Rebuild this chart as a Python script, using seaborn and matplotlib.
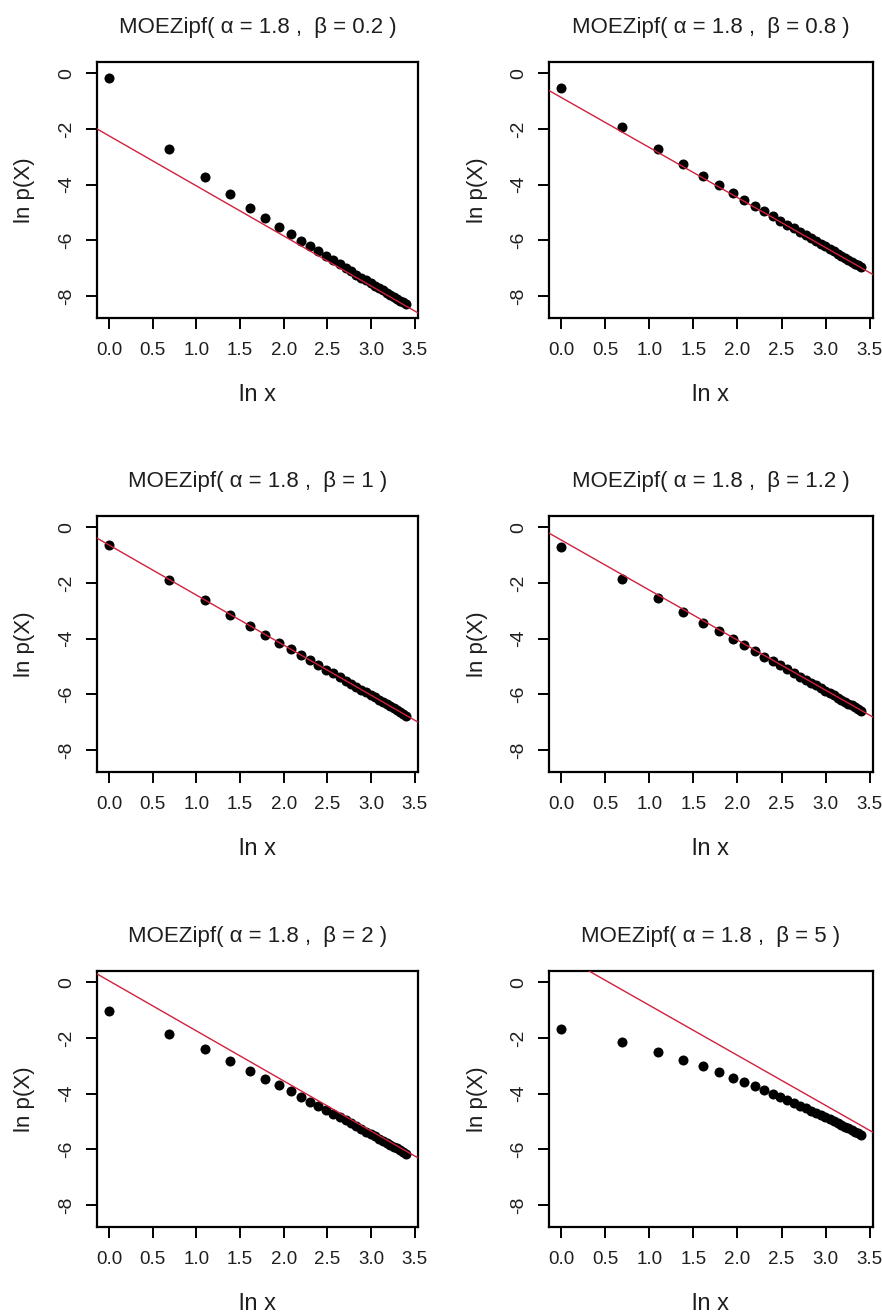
import numpy as np
import pandas as pd
import matplotlib
matplotlib.use("Agg")
import matplotlib.pyplot as plt
import seaborn as sns

# ---------------- data ----------------
alpha = 1.8
betas = ["0.2", "0.8", "1", "1.2", "2", "5"]
x_values = np.arange(1, 31)          # x = 1..30, plotted as ln x

lnp_b02 = [-0.16, -2.73, -3.71, -4.35, -4.82, -5.20, -5.51, -5.77, -6.01, -6.21,
           -6.40, -6.56, -6.72, -6.86, -6.99, -7.11, -7.23, -7.34, -7.44, -7.54,
           -7.63, -7.71, -7.80, -7.88, -7.95, -8.03, -8.10, -8.17, -8.23, -8.29]
lnp_b08 = [-0.53, -1.94, -2.72, -3.26, -3.68, -4.02, -4.30, -4.55, -4.76, -4.96,
           -5.13, -5.29, -5.44, -5.57, -5.70, -5.82, -5.93, -6.03, -6.13, -6.22,
           -6.31, -6.40, -6.48, -6.56, -6.63, -6.70, -6.77, -6.84, -6.90, -6.96]
lnp_b1 = [-0.63, -1.88, -2.61, -3.13, -3.53, -3.86, -4.14, -4.38, -4.59, -4.78,
          -4.95, -5.11, -5.25, -5.38, -5.51, -5.62, -5.73, -5.84, -5.93, -6.03,
          -6.11, -6.20, -6.28, -6.35, -6.43, -6.50, -6.57, -6.63, -6.69, -6.76]
lnp_b12 = [-0.72, -1.85, -2.54, -3.03, -3.42, -3.74, -4.01, -4.24, -4.45, -4.64,
           -4.81, -4.96, -5.10, -5.23, -5.36, -5.47, -5.58, -5.68, -5.78, -5.87,
           -5.95, -6.04, -6.12, -6.19, -6.26, -6.33, -6.40, -6.47, -6.53, -6.59]
lnp_b2 = [-1.02, -1.85, -2.41, -2.83, -3.17, -3.46, -3.70, -3.92, -4.11, -4.28,
          -4.44, -4.59, -4.72, -4.84, -4.96, -5.07, -5.17, -5.27, -5.36, -5.45,
          -5.53, -5.61, -5.69, -5.76, -5.83, -5.90, -5.96, -6.03, -6.09, -6.15]
lnp_b5 = [-1.69, -2.14, -2.50, -2.78, -3.02, -3.23, -3.42, -3.58, -3.73, -3.87,
          -4.00, -4.12, -4.23, -4.33, -4.43, -4.52, -4.61, -4.69, -4.77, -4.85,
          -4.92, -4.99, -5.06, -5.12, -5.19, -5.25, -5.30, -5.36, -5.41, -5.47]
series = [lnp_b02, lnp_b08, lnp_b1, lnp_b12, lnp_b2, lnp_b5]

# red reference lines: ln p = intercept - alpha * ln x
intercepts = [-2.24, -0.86, -0.63, -0.45, 0.06, 0.98]

x_ticks = [0.0, 0.5, 1.0, 1.5, 2.0, 2.5, 3.0, 3.5]
x_ticklabels = ["0.0", "0.5", "1.0", "1.5", "2.0", "2.5", "3.0", "3.5"]
y_ticks = [0, -2, -4, -6, -8]
y_ticklabels = ["0", "-2", "-4", "-6", "-8"]

# ---------------- style ----------------
sns.set_style("white")
plt.rcParams["font.family"] = ["Liberation Sans", "DejaVu Sans"]
plt.rcParams["axes.unicode_minus"] = False

W, H = 882, 1316
fig = plt.figure(figsize=(W / 100, H / 100), dpi=100)
fig.patch.set_facecolor("white")

col_left = [97, 549]
col_width = [321, 324]
row_top = [62, 516, 971]
box_h = 256

tick_font = ["Liberation Sans Narrow", "Liberation Sans", "DejaVu Sans"]
txt_col = "#1e1e1e"

for i, (beta, vals, b0) in enumerate(zip(betas, series, intercepts)):
    r, c = divmod(i, 2)
    left = col_left[c] / W
    bottom = 1 - (row_top[r] + box_h) / H
    ax = fig.add_axes([left, bottom, col_width[c] / W, box_h / H])

    df = pd.DataFrame({"lnx": np.log(x_values), "lnp": vals})
    sns.scatterplot(data=df, x="lnx", y="lnp", ax=ax, color="black",
                    s=52, linewidth=0, zorder=2)
    ax.axline((0, b0), slope=-alpha, color="#d0203c", linewidth=1.0, zorder=3)

    ax.set_xlim(-0.136, 3.537)
    ax.set_ylim(-8.79, 0.41)
    ax.set_xticks(x_ticks)
    ax.set_xticklabels(x_ticklabels, family=tick_font, fontsize=13.5, color=txt_col)
    ax.set_yticks(y_ticks)
    ax.set_yticklabels(y_ticklabels, family=tick_font, fontsize=14, color=txt_col,
                       rotation=90, va="center", ha="right")
    ax.tick_params(axis="both", direction="out", length=8, width=1.4,
                   color="black", bottom=True, left=True)
    ax.tick_params(axis="x", pad=9)
    ax.tick_params(axis="y", pad=8)
    for sp in ax.spines.values():
        sp.set_visible(True)
        sp.set_color("black")
        sp.set_linewidth(1.6)

    ax.set_title(f"MOEZipf( \u03b1 = {alpha} ,  \u03b2 = {beta} )",
                 fontsize=16, color=txt_col, pad=21)
    ax.set_xlabel("ln x", fontsize=17, color=txt_col, va="center")
    ax.xaxis.set_label_coords(0.5, -77 / box_h)
    ax.set_ylabel("ln p(X)", fontsize=16, color=txt_col, va="center")
    ax.yaxis.set_label_coords(-72 / col_width[c], 0.5)

fig.savefig("out.png", dpi=100, facecolor="white")
